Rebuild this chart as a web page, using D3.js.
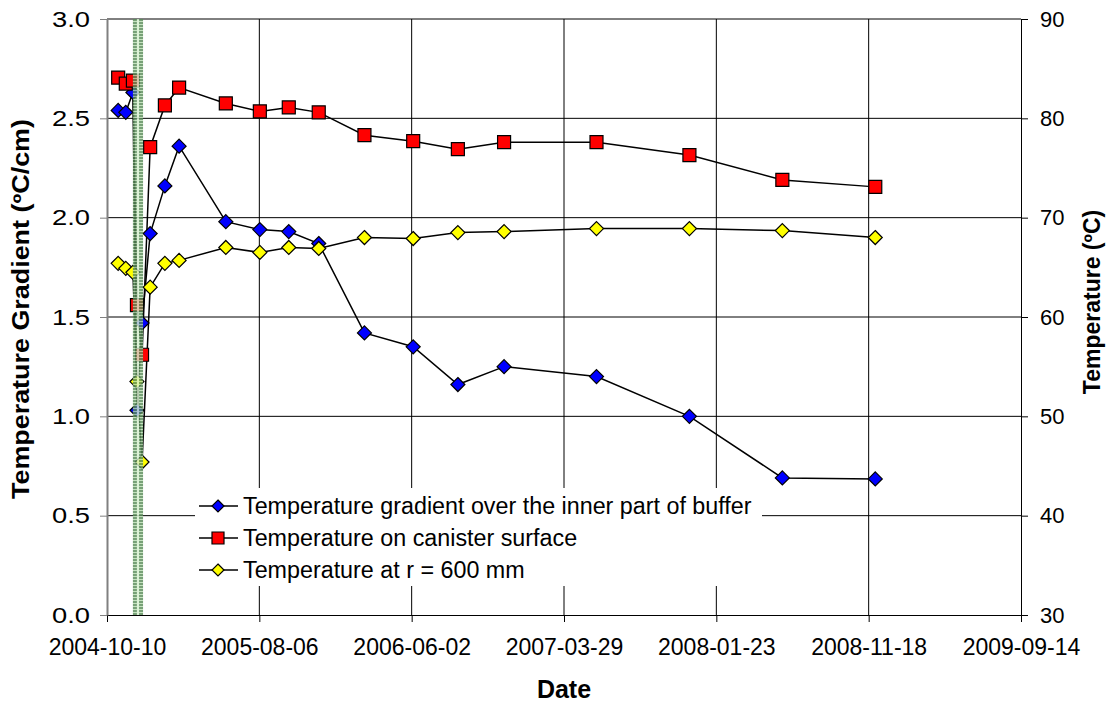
<!DOCTYPE html>
<html>
<head>
<meta charset="utf-8">
<script src="https://cdn.jsdelivr.net/npm/d3@7"></script>
<style>
  body { margin: 0; background: #fff; }
  text { font-family: "Liberation Sans", Arial, sans-serif; }
</style>
</head>
<body>
<div id="chart"></div>
<script>
// data
var dates = ["2004-11-01","2004-11-16","2004-11-30","2004-12-08","2004-12-18","2005-01-03",
             "2005-02-01","2005-03-01","2005-06-01","2005-08-07","2005-10-03","2005-12-01",
             "2006-03-01","2006-06-05","2006-09-01","2006-12-01","2007-06-01","2007-12-01",
             "2008-06-01","2008-12-01"];
var gradient = [2.54, 2.53, 2.63, 1.03, 1.47, 1.92, 2.16, 2.36, 1.98, 1.94, 1.93, 1.87,
                1.42, 1.35, 1.16, 1.25, 1.20, 1.00, 0.69, 0.685];
var canisterTemp = [84.1, 83.5, 83.8, 61.2, 56.2, 77.1, 81.3, 83.1, 81.5, 80.7, 81.1, 80.6,
                    78.3, 77.7, 76.9, 77.6, 77.6, 76.3, 73.8, 73.1];
var temp600 = [65.4, 64.9, 64.5, 53.5, 45.4, 63.0, 65.4, 65.7, 67.0, 66.5, 67.0, 66.9,
               68.0, 67.9, 68.5, 68.6, 68.9, 68.9, 68.7, 68.0];
var xTickLabels = ["2004-10-10","2005-08-06","2006-06-02","2007-03-29","2008-01-23","2008-11-18","2009-09-14"];
var leftTicks = [0, 0.5, 1.0, 1.5, 2.0, 2.5, 3.0];
var rightTicks = [30, 40, 50, 60, 70, 80, 90];
var shadePeriod = ["2004-11-30","2004-12-20"];
var seriesNames = ["Temperature gradient over the inner part of buffer",
                   "Temperature on canister surface",
                   "Temperature at r = 600 mm"];

var parse = d3.utcParse("%Y-%m-%d");
var W = 1110, H = 704;
var margin = {top: 19, right: 89, bottom: 89, left: 107};
var width = W - margin.left - margin.right,
    height = H - margin.top - margin.bottom;

var root = d3.select("#chart").append("svg")
    .attr("width", W).attr("height", H);
var svg = root.append("g")
    .attr("transform", "translate(" + margin.left + "," + margin.top + ")");

var xScale = d3.scaleUtc()
    .domain([parse(xTickLabels[0]), parse(xTickLabels[xTickLabels.length - 1])])
    .range([0, width]);
var yLeft = d3.scaleLinear().domain([0, 3]).range([height, 0]);
var yRight = d3.scaleLinear().domain([30, 90]).range([height, 0]);

// gridlines
svg.append("g").selectAll("line")
    .data(leftTicks.slice(1))
    .enter().append("line")
    .attr("x1", 0).attr("x2", width)
    .attr("y1", function(d){ return yLeft(d); })
    .attr("y2", function(d){ return yLeft(d); })
    .attr("stroke", "#000").attr("stroke-width", 1);
svg.append("g").selectAll("line")
    .data(xTickLabels.slice(1, -1))
    .enter().append("line")
    .attr("x1", function(d){ return xScale(parse(d)); })
    .attr("x2", function(d){ return xScale(parse(d)); })
    .attr("y1", 0).attr("y2", height)
    .attr("stroke", "#000").attr("stroke-width", 1);

// axes
var xAxis = svg.append("g")
    .attr("transform", "translate(0," + height + ")")
    .call(d3.axisBottom(xScale)
        .tickValues(xTickLabels.map(parse))
        .tickFormat(d3.utcFormat("%Y-%m-%d"))
        .tickSize(7).tickSizeOuter(0).tickPadding(17));
xAxis.selectAll("text").style("font-size", "23px").attr("fill", "#000");

var lAxis = svg.append("g")
    .call(d3.axisLeft(yLeft).tickValues(leftTicks).tickFormat(d3.format(".1f"))
        .tickSize(7).tickSizeOuter(0).tickPadding(10));
// labels on this axis are drawn wider in the reference
lAxis.selectAll("text").style("font-size", "22px").attr("fill", "#000")
    .attr("textLength", 38).attr("lengthAdjust", "spacingAndGlyphs");
lAxis.select(".domain").attr("stroke", "#808080").attr("stroke-width", 2);
lAxis.selectAll(".tick line").attr("stroke", "#808080");

var rAxis = svg.append("g")
    .attr("transform", "translate(" + width + ",0)")
    .call(d3.axisRight(yRight).tickValues(rightTicks)
        .tickSize(7).tickSizeOuter(0).tickPadding(12));
rAxis.selectAll("text").style("font-size", "22px").attr("fill", "#000");

xAxis.selectAll(".domain, .tick line").attr("stroke", "#000");
rAxis.selectAll(".domain, .tick line").attr("stroke", "#000");

// axis titles
svg.append("text")
    .attr("x", width / 2).attr("y", height + 83)
    .attr("text-anchor", "middle")
    .style("font-size", "25px").style("font-weight", "bold")
    .text("Date");
svg.append("text")
    .attr("transform", "rotate(-90)")
    .attr("x", -290).attr("y", -78)
    .attr("text-anchor", "middle")
    .attr("textLength", 380).attr("lengthAdjust", "spacingAndGlyphs")
    .style("font-size", "23px").style("font-weight", "bold")
    .text("Temperature Gradient (ºC/cm)");
svg.append("text")
    .attr("transform", "rotate(-90)")
    .attr("x", -283).attr("y", width + 79)
    .attr("text-anchor", "middle")
    .style("font-size", "23px").style("font-weight", "bold")
    .text("Temperature (ºC)");

// series
var series = [
    {name: seriesNames[0], values: gradient, scale: yLeft, color: "#0000ff", shape: "diamond"},
    {name: seriesNames[1], values: canisterTemp, scale: yRight, color: "#ff0000", shape: "square"},
    {name: seriesNames[2], values: temp600, scale: yRight, color: "#ffff00", shape: "diamond"}
];

function markerPath(shape){
    if (shape === "square") return "M-6.5,-6.5H6.5V6.5H-6.5Z";
    return "M0,-7L7,0L0,7L-7,0Z";
}

series.forEach(function(s){
    var pts = dates.map(function(d, i){ return [xScale(parse(d)), s.scale(s.values[i])]; });
    svg.append("path")
        .datum(pts)
        .attr("d", d3.line())
        .attr("fill", "none")
        .attr("stroke", "#000")
        .attr("stroke-width", 1.5);
});
series.forEach(function(s){
    svg.append("g").selectAll("path")
        .data(dates)
        .enter().append("path")
        .attr("d", markerPath(s.shape))
        .attr("transform", function(d, i){
            return "translate(" + xScale(parse(d)) + "," + s.scale(s.values[i]) + ")";
        })
        .attr("fill", s.color)
        .attr("stroke", "#000")
        .attr("stroke-width", 1.2);
});

// shaded period (hatched green band drawn over the marks)
var defs = root.append("defs");
var pat = defs.append("pattern")
    .attr("id", "greenHatch")
    .attr("patternUnits", "userSpaceOnUse")
    .attr("width", 4).attr("height", 3);
pat.append("rect").attr("width", 4).attr("height", 3).attr("fill", "#5a8c5a");
pat.append("rect").attr("y", 2).attr("width", 4).attr("height", 1).attr("fill", "#b8dcb0");
var sx0 = xScale(parse(shadePeriod[0])), sx1 = xScale(parse(shadePeriod[1]));
var band = svg.append("g").attr("opacity", 0.82);
band.append("rect")
    .attr("x", sx0).attr("y", 0)
    .attr("width", sx1 - sx0).attr("height", height)
    .attr("fill", "url(#greenHatch)");
band.append("rect")
    .attr("x", sx0 + 4).attr("y", 0)
    .attr("width", sx1 - sx0 - 8).attr("height", height)
    .attr("fill", "#d6f0cf");

// legend
var legend = svg.append("g")
    .attr("transform", "translate(" + (195 - margin.left) + "," + (488 - margin.top) + ")");
legend.append("rect")
    .attr("width", 567).attr("height", 98)
    .attr("fill", "#fff");
var item = legend.selectAll(".legend")
    .data(series)
    .enter().append("g")
    .attr("class", "legend")
    .attr("transform", function(d, i){ return "translate(0," + (18 + i * 32) + ")"; });
item.append("line")
    .attr("x1", 4).attr("x2", 43)
    .attr("stroke", "#000").attr("stroke-width", 1.5);
item.append("path")
    .attr("d", function(d){ return d.shape === "square" ? "M-6,-6H6V6H-6Z" : "M0,-6L6,0L0,6L-6,0Z"; })
    .attr("transform", "translate(23,0)")
    .attr("fill", function(d){ return d.color; })
    .attr("stroke", "#000").attr("stroke-width", 1.2);
item.append("text")
    .attr("x", 48).attr("y", 8)
    .style("font-size", "23.3px")
    .text(function(d){ return d.name; });
</script>
</body>
</html>
